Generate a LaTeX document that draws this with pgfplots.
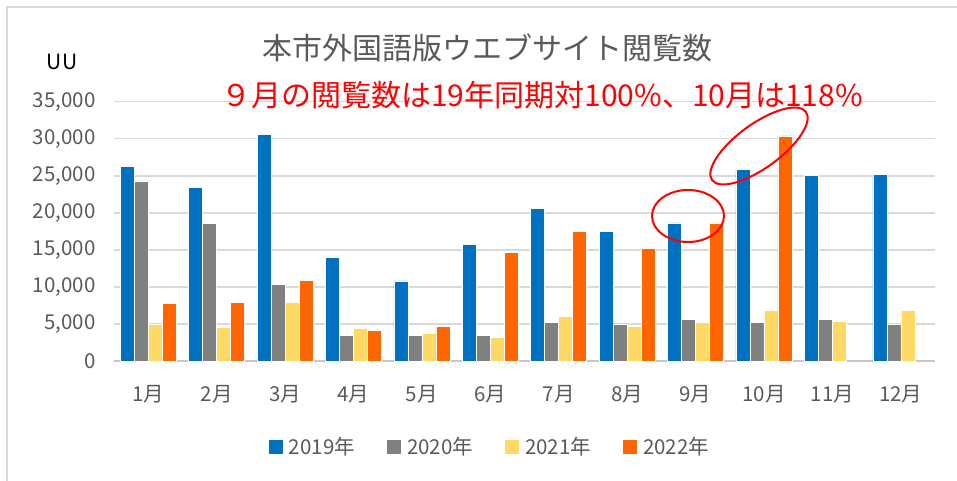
\documentclass[border=0pt]{standalone}
\usepackage{pgfplots}
\pgfplotsset{compat=1.18}
\usepackage{fontspec}
\setmainfont{Noto Sans CJK JP}
\definecolor{c19}{HTML}{0070C0}
\definecolor{c20}{HTML}{808080}
\definecolor{c21}{HTML}{FFD966}
\definecolor{c22}{HTML}{FF6600}
\definecolor{tgrey}{HTML}{595959}
\definecolor{gridc}{HTML}{D9D9D9}
\begin{document}
\begin{tikzpicture}
\path[use as bounding box] (0pt,0pt) rectangle (957pt,-481pt);
\draw[gridc, line width=2pt] (7pt,-481pt) -- (7pt,-7pt) -- (957pt,-7pt);
\begin{axis}[
  at={(114pt,-361pt)}, anchor=south west,
  scale only axis, width=821pt, height=259.3pt,
  ybar=0pt, bar width=14pt,
  xmin=0.5, xmax=12.5, ymin=0, ymax=35000,
  xtick={1,...,12},
  xticklabels={1月,2月,3月,4月,5月,6月,7月,8月,9月,10月,11月,12月},
  ytick={0,5000,...,35000},
  /pgf/number format/.cd, fixed, 1000 sep={,}, assume math mode=true,
  /pgfplots/.cd,
  scaled y ticks=false,
  major tick length=0pt,
  axis line style={draw=none},
  ymajorgrids, grid style={gridc, line width=1.5pt},
  tick label style={text=tgrey, font=\fontsize{20.5}{24}\selectfont},
  yticklabel style={xshift=-15pt},
  xticklabel style={yshift=-21pt},
  clip=false,
  legend columns=4,
  legend style={draw=none, fill=none, at={(0.458,-0.332)}, anchor=center,
    font=\fontsize{20.5}{24}\selectfont, text=tgrey,
    /tikz/every odd column/.append style={column sep=4pt},
    /tikz/every even column/.append style={column sep=30pt}},
  legend image code/.code={\fill[#1, draw=none] (0pt,-7pt) rectangle (14pt,7pt);},
]
\draw[gridc!80!gray, line width=1.5pt] (axis cs:0.5,0) -- (axis cs:12.5,0);
\addplot[fill=c19, draw=white, line width=0.5pt] coordinates {(1,26300) (2,23450) (3,30630) (4,13940) (5,10800) (6,15750) (7,20650) (8,17500) (9,18660) (10,25820) (11,25100) (12,25150)};
\addplot[fill=c20, draw=white, line width=0.5pt] coordinates {(1,24300) (2,18550) (3,10350) (4,3510) (5,3510) (6,3510) (7,5170) (8,5000) (9,5620) (10,5170) (11,5580) (12,4900)};
\addplot[fill=c21, draw=white, line width=0.5pt] coordinates {(1,5000) (2,4590) (3,7870) (4,4450) (5,3730) (6,3240) (7,6070) (8,4680) (9,5170) (10,6840) (11,5350) (12,6880)};
\addplot[fill=c22, draw=white, line width=0.5pt] coordinates {(1,7730) (2,7870) (3,10890) (4,4180) (5,4720) (6,14620) (7,17540) (8,15250) (9,18660) (10,30400)};
\legend{2019年,2020年,2021年,2022年}
\end{axis}
\node[text=black, font=\fontsize{21}{24}\selectfont] at (62pt,-62pt) {UU};
\node[text=tgrey, font=\fontsize{30}{34}\selectfont] at (487pt,-48pt) {本市外国語版ウエブサイト閲覧数};
\node[text=red, font=\fontsize{30}{34}\selectfont] at (542pt,-95pt) {９月の閲覧数は19年同期対100\%、10月は118\%};
\draw[red, line width=2pt] (688pt,-216pt) ellipse [x radius=36pt, y radius=26pt];
\draw[red, line width=2pt, rotate around={36:(759pt,-146pt)}] (759pt,-146pt) ellipse [x radius=58pt, y radius=22pt];
\end{tikzpicture}
\end{document}
